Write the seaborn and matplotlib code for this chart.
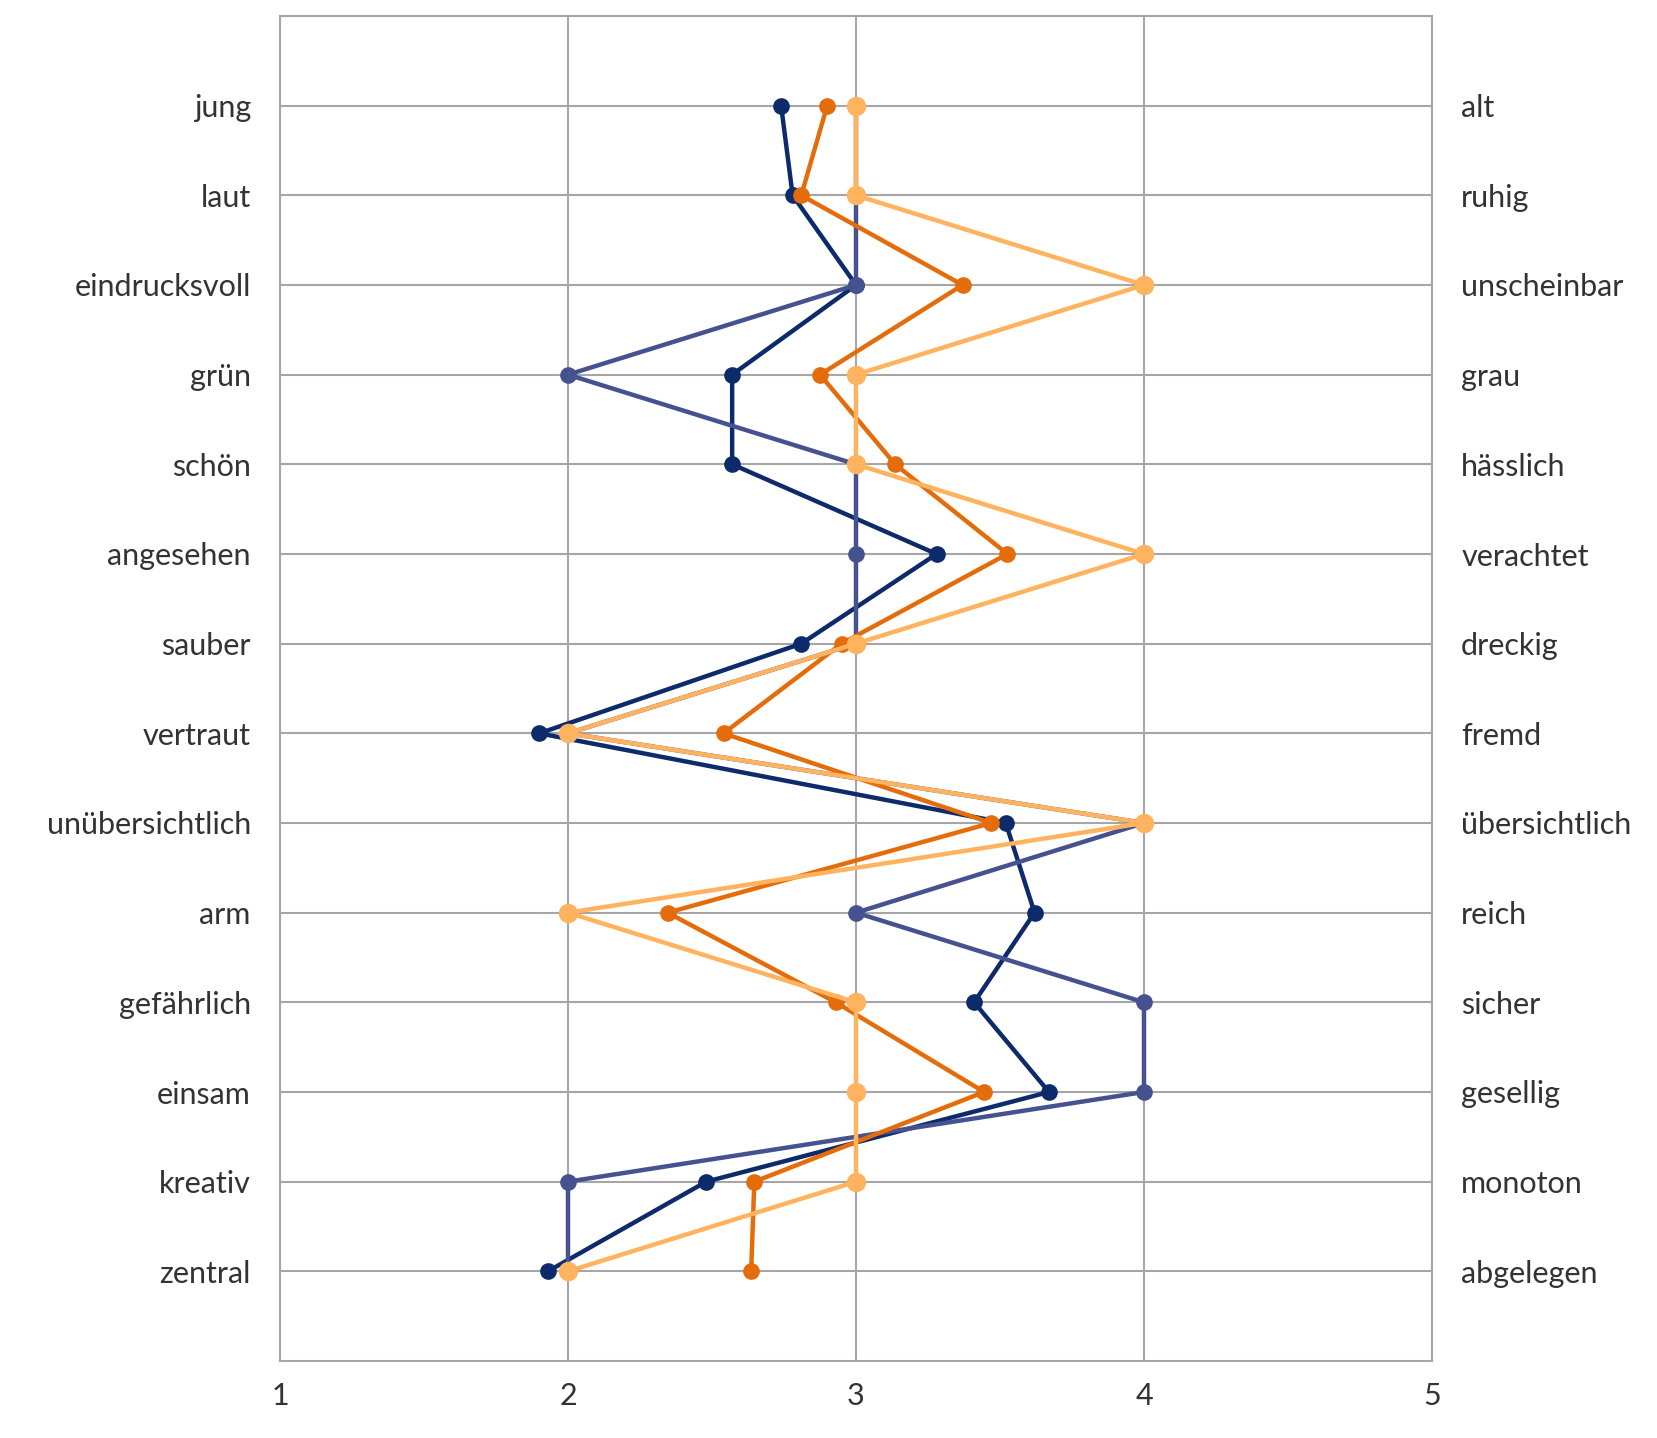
import matplotlib
matplotlib.use("Agg")
import matplotlib.pyplot as plt
import seaborn as sns
import pandas as pd
import numpy as np

left_labels = ["jung", "laut", "eindrucksvoll", "grün", "schön", "angesehen", "sauber",
               "vertraut", "unübersichtlich", "arm", "gefährlich", "einsam", "kreativ", "zentral"]
right_labels = ["alt", "ruhig", "unscheinbar", "grau", "hässlich", "verachtet", "dreckig",
                "fremd", "übersichtlich", "reich", "sicher", "gesellig", "monoton", "abgelegen"]

navy = [2.74, 2.78, 3.0, 2.57, 2.57, 3.28, 2.81, 1.90, 3.52, 3.62, 3.41, 3.67, 2.48, 1.93]
slate = [3, 3, 3, 2, 3, 3, 3, 2, 4, 3, 4, 4, 2, 2]
dark_orange = [2.90, 2.81, 3.37, 2.875, 3.136, 3.526, 2.95, 2.54, 3.47, 2.346, 2.93, 3.445, 2.647, 2.636]
light_orange = [3, 3, 4, 3, 3, 4, 3, 2, 4, 2, 3, 3, 3, 2]

series = [
    ("navy", navy, "#0D2A6B", 12),
    ("slate", slate, "#45528F", 12),
    ("dark_orange", dark_orange, "#E46C0A", 12),
    ("light_orange", light_orange, "#FFB35E", 14),
]

sns.set_theme(style="white")
plt.rcParams['font.family'] = ['Lato', 'DejaVu Sans']

fig = plt.figure(figsize=(16.58, 14.38), dpi=100)
ax = fig.add_axes([280/1658, 1-1361/1438, (1432-280)/1658, (1361-16)/1438])

pos = np.arange(1, len(left_labels) + 1)
for i, (name, vals, col, ms) in enumerate(series):
    df = pd.DataFrame({"x": vals, "y": pos})
    sns.lineplot(data=df, x="x", y="y", sort=False, estimator=None, ax=ax,
                 color=col, linewidth=3.2, marker="o", markersize=ms,
                 markeredgewidth=0, zorder=3 + i)

grid_col = "#A6A6A6"
text_col = "#333333"
ax.set_xlim(1, 5)
ax.set_ylim(15, 0)
ax.set_xticks([1, 2, 3, 4, 5])
ax.set_xticklabels(["1", "2", "3", "4", "5"])
ax.set_yticks(pos)
ax.set_yticklabels(left_labels)
ax.grid(True, color=grid_col, linewidth=1.5, zorder=0)
ax.set_axisbelow(True)
ax.set_xlabel("")
ax.set_ylabel("")
for s in ax.spines.values():
    s.set_color(grid_col)
    s.set_linewidth(1.5)
ax.tick_params(axis="y", length=0, pad=21, labelsize=22, labelcolor=text_col)
ax.tick_params(axis="x", length=7, width=1.5, color=grid_col, direction="out", pad=8,
               labelsize=22, labelcolor=text_col)

ax2 = ax.twinx()
ax2.set_ylim(15, 0)
ax2.set_yticks(pos)
ax2.set_yticklabels(right_labels)
ax2.tick_params(axis="y", length=0, pad=21, labelsize=22, labelcolor=text_col)
ax2.grid(False)
for s in ax2.spines.values():
    s.set_visible(False)

fig.savefig("out.png", dpi=100, facecolor="white")
